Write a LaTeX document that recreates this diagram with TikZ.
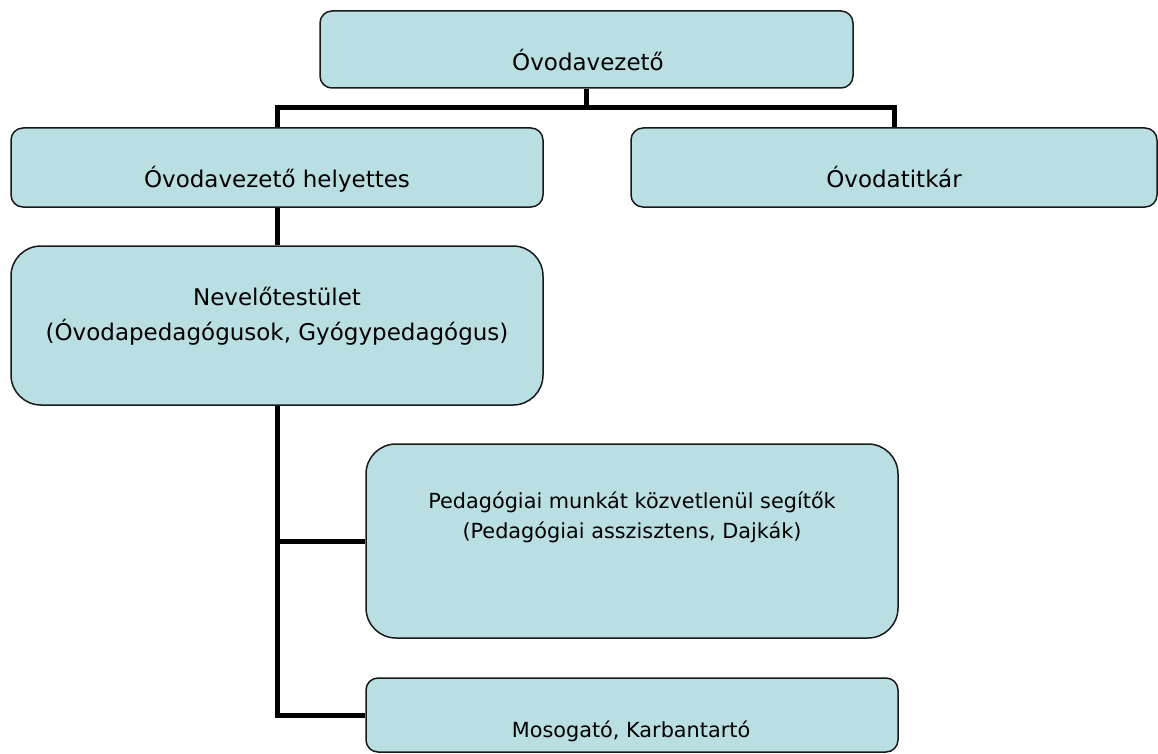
\documentclass[tikz,border=0pt]{standalone}
\usepackage{fontspec}
\setmainfont{DejaVu Sans}

\definecolor{boxfill}{RGB}{186,223,227}
\definecolor{boxline}{RGB}{25,25,25}

\tikzset{
  unit/.style={draw=boxline, line width=1.5pt, fill=boxfill, rounded corners=12pt, inner sep=0pt},
  bigunit/.style={unit, rounded corners=30pt},
  link/.style={line width=5pt, line join=miter},
  lbl/.style={anchor=base, align=center, inner sep=0pt, font=\fontsize{23}{35}\selectfont},
  smalllbl/.style={lbl, font=\fontsize{20.8}{30}\selectfont}
}

\begin{document}
\begin{tikzpicture}[x=1pt, y=-1pt]
  \useasboundingbox (0,0) rectangle (1158,754);

  % Top row
  \node[unit, minimum width=533pt, minimum height=77pt] (vez) at (586.5,49.5) {};
  \node[unit, minimum width=532pt, minimum height=79pt] (hely) at (277,167.5) {};
  \node[unit, minimum width=526pt, minimum height=79pt] (titk) at (894,167.5) {};
  % Staff boxes
  \node[bigunit, minimum width=532pt, minimum height=159pt] (nev) at (277,325.5) {};
  \node[bigunit, minimum width=532pt, minimum height=194pt] (seg) at (632,541) {};
  \node[unit, minimum width=532pt, minimum height=74pt] (mos) at (632,715) {};

  % Texts (base = last line)
  \node[lbl] (vezT) at (588,71) {Óvodavezető};
  \node[lbl] (helyT) at (277,188) {Óvodavezető helyettes};
  \node[lbl] (titkT) at (894,188) {Óvodatitkár};
  \node[lbl] (nevT) at (277,340) {Nevelőtestület\\(Óvodapedagógusok, Gyógypedagógus)};
  \node[smalllbl] (segT) at (632,538) {Pedagógiai munkát közvetlenül segítők\\(Pedagógiai asszisztens, Dajkák)};
  \node[smalllbl] (mosT) at (631,737) {Mosogató, Karbantartó};

  % Links
  \coordinate (bar) at (0,108);
  \draw[link] (vez.south) -- (vez.south |- bar);
  \draw[link] (hely.north) |- (bar -| titk.north) -- (titk.north);
  \draw[link] (hely.south) -- (nev.north);
  \draw[link] (nev.south) |- (mos.west);
  \draw[link] (nev.south |- seg.west) -- (seg.west);
\end{tikzpicture}
\end{document}
